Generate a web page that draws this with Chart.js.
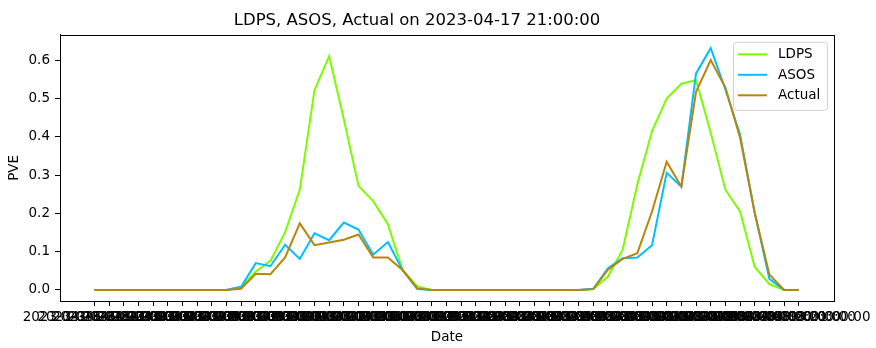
<!DOCTYPE html>
<html>
<head>
<meta charset="utf-8">
<script src="https://cdn.jsdelivr.net/npm/chart.js@4.4.0/dist/chart.umd.min.js"></script>
<style>
  html, body { margin: 0; padding: 0; background: #fff; }
  canvas { display: block; }
</style>
</head>
<body>
<canvas id="pveChart" width="876" height="348"></canvas>
<script>
const dates = [
  '2023-04-16 21:00:00', '2023-04-16 22:00:00', '2023-04-16 23:00:00',
  '2023-04-17 00:00:00', '2023-04-17 01:00:00', '2023-04-17 02:00:00', '2023-04-17 03:00:00',
  '2023-04-17 04:00:00', '2023-04-17 05:00:00', '2023-04-17 06:00:00', '2023-04-17 07:00:00',
  '2023-04-17 08:00:00', '2023-04-17 09:00:00', '2023-04-17 10:00:00', '2023-04-17 11:00:00',
  '2023-04-17 12:00:00', '2023-04-17 13:00:00', '2023-04-17 14:00:00', '2023-04-17 15:00:00',
  '2023-04-17 16:00:00', '2023-04-17 17:00:00', '2023-04-17 18:00:00', '2023-04-17 19:00:00',
  '2023-04-17 20:00:00', '2023-04-17 21:00:00', '2023-04-17 22:00:00', '2023-04-17 23:00:00',
  '2023-04-18 00:00:00', '2023-04-18 01:00:00', '2023-04-18 02:00:00', '2023-04-18 03:00:00',
  '2023-04-18 04:00:00', '2023-04-18 05:00:00', '2023-04-18 06:00:00', '2023-04-18 07:00:00',
  '2023-04-18 08:00:00', '2023-04-18 09:00:00', '2023-04-18 10:00:00', '2023-04-18 11:00:00',
  '2023-04-18 12:00:00', '2023-04-18 13:00:00', '2023-04-18 14:00:00', '2023-04-18 15:00:00',
  '2023-04-18 16:00:00', '2023-04-18 17:00:00', '2023-04-18 18:00:00', '2023-04-18 19:00:00',
  '2023-04-18 20:00:00', '2023-04-18 21:00:00'
];

const ldps = [
  0, 0, 0, 0, 0, 0, 0, 0, 0, 0,
  0.008, 0.048, 0.076, 0.151, 0.262, 0.522, 0.611, 0.446, 0.272, 0.232,
  0.172, 0.053, 0.009, 0, 0, 0, 0, 0, 0, 0,
  0, 0, 0, 0, 0.002, 0.035, 0.105, 0.276, 0.415, 0.500,
  0.539, 0.548, 0.411, 0.262, 0.205, 0.060, 0.015, 0, 0
];
const asos = [
  0, 0, 0, 0, 0, 0, 0, 0, 0, 0,
  0.008, 0.070, 0.062, 0.118, 0.081, 0.148, 0.130, 0.176, 0.158, 0.092,
  0.125, 0.052, 0.002, 0, 0, 0, 0, 0, 0, 0,
  0, 0, 0, 0, 0.003, 0.057, 0.083, 0.085, 0.117, 0.306,
  0.270, 0.566, 0.632, 0.524, 0.406, 0.201, 0.029, 0, 0
];
const actual = [
  0, 0, 0, 0, 0, 0, 0, 0, 0, 0,
  0.003, 0.042, 0.041, 0.085, 0.174, 0.117, 0.124, 0.131, 0.145, 0.085,
  0.085, 0.052, 0.004, 0, 0, 0, 0, 0, 0, 0,
  0, 0, 0, 0, 0.002, 0.053, 0.081, 0.096, 0.205, 0.335,
  0.270, 0.518, 0.601, 0.529, 0.398, 0.201, 0.040, 0, 0
];
const yTicks = [0, 0.1, 0.2, 0.3, 0.4, 0.5, 0.6];

const FONT = 'DejaVu Sans';
const toPoints = arr => arr.map((v, i) => ({ x: i, y: v }));

// box around the plot + legend in the upper right, matplotlib style
const frameAndLegend = {
  id: 'frameAndLegend',
  afterDraw(chart) {
    const { ctx, chartArea: a } = chart;
    ctx.save();
    ctx.strokeStyle = '#000';
    ctx.lineWidth = 1;
    ctx.strokeRect(Math.round(a.left) + 0.5, Math.round(a.top) + 0.5,
      Math.round(a.right - a.left), Math.round(a.bottom - a.top));

    const bx = a.right - 101, by = a.top + 7, bw = 94, bh = 68;
    ctx.beginPath();
    ctx.roundRect(bx + 0.5, by + 0.5, bw, bh, 3);
    ctx.fillStyle = 'rgba(255,255,255,0.8)';
    ctx.fill();
    ctx.strokeStyle = '#d0d0d0';
    ctx.stroke();

    ctx.font = '13.5px ' + FONT;
    ctx.textBaseline = 'middle';
    chart.data.datasets.forEach((ds, i) => {
      const y = by + 12.5 + i * 20.5;
      ctx.strokeStyle = ds.borderColor;
      ctx.lineWidth = 2;
      ctx.beginPath();
      ctx.moveTo(bx + 5, y);
      ctx.lineTo(bx + 34, y);
      ctx.stroke();
      ctx.fillStyle = '#000';
      ctx.fillText(ds.label, bx + 45, y + 0.5);
    });
    ctx.restore();
  }
};

new Chart(document.getElementById('pveChart').getContext('2d'), {
  type: 'line',
  data: {
    datasets: [
      { label: 'LDPS', data: toPoints(ldps), borderColor: '#7CFC00', order: 3 },
      { label: 'ASOS', data: toPoints(asos), borderColor: '#00BFFF', order: 2 },
      { label: 'Actual', data: toPoints(actual), borderColor: '#B8860B', order: 1 }
    ]
  },
  options: {
    responsive: false,
    animation: false,
    devicePixelRatio: 1,
    elements: {
      line: { borderWidth: 2, tension: 0, fill: false },
      point: { radius: 0, hoverRadius: 0 }
    },
    layout: { padding: { left: 0, right: 42, top: 0, bottom: 0 } },
    plugins: {
      legend: { display: false },
      tooltip: { enabled: false },
      title: {
        display: true,
        text: 'LDPS, ASOS, Actual on 2023-04-17 21:00:00',
        color: '#000',
        font: { family: FONT, size: 16.5, weight: 'normal' },
        padding: { top: 11, bottom: 4 }
      }
    },
    scales: {
      x: {
        type: 'linear',
        min: -2.34,
        max: 50.4,
        border: { display: true, color: '#000' },
        grid: { drawOnChartArea: false, drawTicks: true, tickLength: 5, color: '#000' },
        afterBuildTicks: s => { s.ticks = dates.map((d, i) => ({ value: i })); },
        afterFit: s => { s.height = 47; s.paddingLeft = 0; s.paddingRight = 0; },
        ticks: {
          autoSkip: false,
          maxRotation: 0,
          minRotation: 0,
          padding: 3,
          color: '#000',
          font: { family: FONT, size: 13.5 },
          callback: v => dates[v]
        },
        title: {
          display: true,
          text: 'Date',
          color: '#000',
          font: { family: FONT, size: 13.5 },
          padding: { top: 0, bottom: 2 }
        }
      },
      y: {
        min: -0.029,
        max: 0.667,
        border: { display: true, color: '#000' },
        grid: { drawOnChartArea: false, drawTicks: true, tickLength: 5, color: '#000' },
        afterBuildTicks: s => { s.ticks = yTicks.map(v => ({ value: v })); },
        afterFit: s => { s.width = 60; s.paddingTop = 0; s.paddingBottom = 0; },
        ticks: {
          padding: 5,
          color: '#000',
          font: { family: FONT, size: 13.5 },
          callback: v => v.toFixed(1)
        },
        title: {
          display: true,
          text: 'PVE',
          color: '#000',
          font: { family: FONT, size: 13.5 },
          padding: { top: 6, bottom: 0 }
        }
      }
    }
  },
  plugins: [frameAndLegend]
});
</script>
</body>
</html>
